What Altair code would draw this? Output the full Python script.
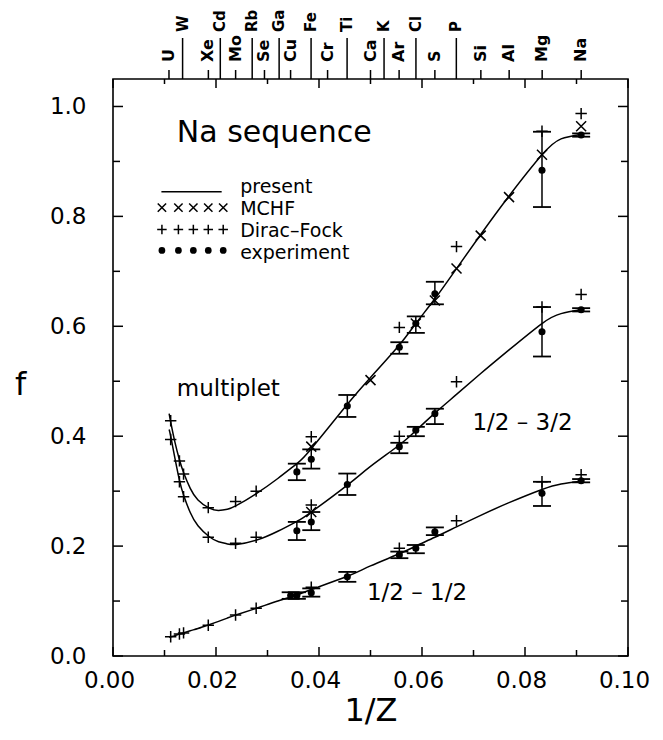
import altair as alt
import pandas as pd

# ---------------- data ----------------
# "present" curves sampled along 1/Z
curve_x = [0.0109, 0.0112, 0.0120, 0.0129, 0.0137, 0.0150, 0.0165, 0.0187, 0.0205,
           0.0222, 0.0240, 0.0279, 0.0320, 0.0357, 0.0385, 0.0455, 0.0500, 0.0556,
           0.0588, 0.0625, 0.0667, 0.0714, 0.0769, 0.0833, 0.0870, 0.0909]
present_mult = [0.441, 0.426, 0.390, 0.357, 0.334, 0.305, 0.284, 0.269, 0.265,
                0.267, 0.274, 0.296, 0.323, 0.350, 0.377, 0.458, 0.507, 0.566,
                0.605, 0.650, 0.705, 0.767, 0.837, 0.912, 0.941, 0.949]
present_32 = [0.412, 0.400, 0.361, 0.320, 0.293, 0.261, 0.237, 0.217, 0.208,
              0.204, 0.203, 0.211, 0.227, 0.245, 0.262, 0.311, 0.345, 0.384,
              0.410, 0.442, 0.476, 0.514, 0.557, 0.605, 0.623, 0.630]
present_12 = [0.034, 0.035, 0.037, 0.040, 0.042, 0.046, 0.050, 0.057, 0.063,
              0.069, 0.075, 0.087, 0.100, 0.111, 0.121, 0.145, 0.164, 0.186,
              0.200, 0.216, 0.235, 0.256, 0.279, 0.303, 0.313, 0.318]

# Dirac-Fock (+)
df_x = [0.0112, 0.0129, 0.0137, 0.0185, 0.0238, 0.0278, 0.0385, 0.0556, 0.0667, 0.0833, 0.0909]
df_mult = [0.428, 0.355, 0.331, 0.270, 0.281, 0.300, 0.399, 0.598, 0.745, 0.955, 0.987]
df_32 = [0.394, 0.317, 0.290, 0.216, 0.205, 0.216, 0.275, 0.400, 0.499, 0.635, 0.658]
df_12 = [0.035, 0.040, 0.042, 0.056, 0.0745, 0.087, 0.125, 0.196, 0.246, 0.317, 0.330]

# MCHF (x)
mchf_x = [0.0385, 0.0500, 0.0588, 0.0625, 0.0667, 0.0714, 0.0769, 0.0833, 0.0909, 0.0385]
mchf_f = [0.381, 0.502, 0.605, 0.647, 0.705, 0.765, 0.835, 0.912, 0.964, 0.262]

# experiment (dots with error bars)
exp_x_mult = [0.0357, 0.0385, 0.0455, 0.0556, 0.0588, 0.0625, 0.0833, 0.0909]
exp_f_mult = [0.335, 0.358, 0.455, 0.562, 0.605, 0.659, 0.884, 0.948]
exp_lo_mult = [0.320, 0.341, 0.435, 0.550, 0.588, 0.640, 0.817, 0.945]
exp_hi_mult = [0.350, 0.376, 0.475, 0.571, 0.618, 0.681, 0.954, 0.951]

exp_x_32 = [0.0357, 0.0385, 0.0455, 0.0556, 0.0588, 0.0625, 0.0833, 0.0909]
exp_f_32 = [0.228, 0.244, 0.312, 0.381, 0.411, 0.441, 0.590, 0.630]
exp_lo_32 = [0.211, 0.229, 0.293, 0.369, 0.400, 0.422, 0.545, 0.627]
exp_hi_32 = [0.244, 0.262, 0.332, 0.388, 0.417, 0.450, 0.635, 0.633]

exp_x_12 = [0.0345, 0.0357, 0.0385, 0.0455, 0.0556, 0.0588, 0.0625, 0.0833, 0.0909]
exp_f_12 = [0.110, 0.110, 0.115, 0.144, 0.184, 0.196, 0.226, 0.296, 0.319]
exp_lo_12 = [0.104, 0.104, 0.108, 0.135, 0.178, 0.187, 0.220, 0.273, 0.316]
exp_hi_12 = [0.116, 0.116, 0.123, 0.153, 0.190, 0.202, 0.234, 0.317, 0.322]

# top axis: elements (nuclear charge Z)
top_lower_names = ["U", "Xe", "Mo", "Se", "Cu", "Cr", "Ca", "Ar", "S", "Si", "Al", "Mg", "Na"]
top_lower_Z = [92, 54, 42, 34, 29, 24, 20, 18, 16, 14, 13, 12, 11]
top_upper_names = ["W", "Cd", "Rb", "Ga", "Fe", "Ti", "K", "Cl", "P"]
top_upper_Z = [74, 48, 37, 31, 26, 22, 19, 17, 15]

x_major = [0.0, 0.02, 0.04, 0.06, 0.08, 0.10]
x_minor = [0.01, 0.03, 0.05, 0.07, 0.09]
y_major = [0.0, 0.2, 0.4, 0.6, 0.8, 1.0]
y_minor = [0.1, 0.3, 0.5, 0.7, 0.9]

# legend layout (inside the plot, upper left)
leg_sym_x = [0.0095, 0.0127, 0.0156, 0.0185, 0.0214]
leg_line_x = [0.0094, 0.0211]
leg_rows_f = [0.845, 0.816, 0.776, 0.738]
leg_text = ["present", "MCHF", "Dirac\u2013Fock", "experiment"]
leg_text_x = 0.0247
leg_text_f = [0.8424, 0.8018, 0.7624, 0.723]

notes = ["Na  sequence", "multiplet", "1/2  \u2013  3/2", "1/2  \u2013  1/2"]
notes_x = [0.0124, 0.0124, 0.0698, 0.0493]
notes_f = [0.935, 0.4727, 0.412, 0.1018]
notes_size = [30, 23, 23, 23]

# ---------------- build tables ----------------
W, H = 515, 577
FONT = "DejaVu Sans"

curves = pd.DataFrame({
    "x": curve_x * 3,
    "f": present_mult + present_32 + present_12,
    "series": ["multiplet"] * len(curve_x) + ["1/2-3/2"] * len(curve_x) + ["1/2-1/2"] * len(curve_x),
})
dfp = pd.DataFrame({"x": df_x * 3, "f": df_mult + df_32 + df_12})
mchf = pd.DataFrame({"x": mchf_x, "f": mchf_f})
exp = pd.DataFrame({
    "x": exp_x_mult + exp_x_32 + exp_x_12,
    "f": exp_f_mult + exp_f_32 + exp_f_12,
    "lo": exp_lo_mult + exp_lo_32 + exp_lo_12,
    "hi": exp_hi_mult + exp_hi_32 + exp_hi_12,
})
caps = pd.DataFrame({"x": list(exp["x"]) * 2, "f": list(exp["lo"]) + list(exp["hi"])})

xs = alt.Scale(domain=[0, 0.1], nice=False, zero=False)
ys = alt.Scale(domain=[0, 1.05], nice=False, zero=False)
xaxis = alt.Axis(values=x_major, format=".2f", ticks=False, domain=False, grid=False,
                 labelFontSize=23, labelFont=FONT, labelColor="black", labelPadding=13,
                 labelOffset=-4, labelFlush=False, labelOverlap=False,
                 title="1/Z", titleFont=FONT, titleFontSize=32, titleFontWeight="normal",
                 titleColor="black", titleX=W / 2, titleY=54, titleAlign="center",
                 titleBaseline="middle")
yaxis = alt.Axis(values=y_major, format=".1f", ticks=False, domain=False, grid=False,
                 labelFontSize=23, labelFont=FONT, labelColor="black", labelPadding=27,
                 labelFlush=False, labelOverlap=False,
                 title="f", titleFont=FONT, titleFontSize=32, titleFontWeight="normal",
                 titleColor="black", titleAngle=0, titleX=-93, titleY=305,
                 titleAlign="center", titleBaseline="middle")

X = alt.X("x:Q", scale=xs, axis=xaxis)
Y = alt.Y("f:Q", scale=ys, axis=yaxis)

lines = alt.Chart(curves).mark_line(color="black", strokeWidth=1.5, interpolate="natural").encode(
    x=X, y=Y, detail="series:N")

PLUS = "M-1,0L1,0M0,-1L0,1"
CROSS = "M-1,-1L1,1M-1,1L1,-1"
CAP = "M-1,0L1,0"

plus = alt.Chart(dfp).mark_point(shape=PLUS, filled=False, color="black", strokeWidth=1.5,
                                 size=130, opacity=1).encode(x=X, y=Y)
cross = alt.Chart(mchf).mark_point(shape=CROSS, filled=False, color="black", strokeWidth=1.5,
                                   size=100, opacity=1).encode(x=X, y=Y)
bars = alt.Chart(exp).mark_rule(color="black", strokeWidth=1.5).encode(
    x=X, y=alt.Y("lo:Q", scale=ys, axis=yaxis), y2="hi:Q")
capm = alt.Chart(caps).mark_point(shape=CAP, filled=False, color="black", strokeWidth=1.8,
                                  size=324, opacity=1).encode(x=X, y=Y)
dots = alt.Chart(exp).mark_circle(color="black", size=50, opacity=1).encode(x=X, y=Y)


# frame ticks (inward)
def hticks(vals, y0, y1):
    return alt.Chart(pd.DataFrame({"x": vals})).mark_rule(color="black", strokeWidth=1.5).encode(
        x=X, y=alt.value(y0), y2=alt.value(y1))


def vticks(vals, x0, x1):
    return alt.Chart(pd.DataFrame({"f": vals})).mark_rule(color="black", strokeWidth=1.5).encode(
        y=Y, x=alt.value(x0), x2=alt.value(x1))


tick_layers = [
    hticks(x_major, H, H - 9), hticks(x_minor, H, H - 6),
    hticks(x_major, 0, 9), hticks(x_minor, 0, 5),
    vticks(y_major, 0, 10), vticks(y_minor, 0, 7),
    vticks(y_major, W, W - 10), vticks(y_minor, W, W - 7),
]

low = pd.DataFrame({"x": [1.0 / z for z in top_lower_Z], "name": top_lower_names})
upp = pd.DataFrame({"x": [1.0 / z for z in top_upper_Z], "name": top_upper_names})
low_ticks = alt.Chart(low).mark_rule(color="black", strokeWidth=1.5).encode(
    x=X, y=alt.value(0), y2=alt.value(-9))
upp_ticks = alt.Chart(upp).mark_rule(color="black", strokeWidth=1.5).encode(
    x=X, y=alt.value(0), y2=alt.value(-41))
low_text = alt.Chart(low).mark_text(angle=270, align="left", baseline="middle", font=FONT,
                                    fontSize=16, fontWeight="bold", color="black").encode(
    x=X, y=alt.value(-17), text="name:N")
upp_text = alt.Chart(upp).mark_text(angle=270, align="left", baseline="middle", font=FONT,
                                    fontSize=15, fontWeight="bold", color="black").encode(
    x=X, y=alt.value(-47), text="name:N")

# legend
leg_line = alt.Chart(pd.DataFrame({"x": [leg_line_x[0]], "x2": [leg_line_x[1]], "f": [leg_rows_f[0]]})).mark_rule(
    color="black", strokeWidth=1.5).encode(x=X, x2="x2:Q", y=Y)
leg_cross = alt.Chart(pd.DataFrame({"x": leg_sym_x, "f": [leg_rows_f[1]] * 5})).mark_point(
    shape=CROSS, filled=False, color="black", strokeWidth=1.5, size=70, opacity=1).encode(x=X, y=Y)
leg_plus = alt.Chart(pd.DataFrame({"x": leg_sym_x, "f": [leg_rows_f[2]] * 5})).mark_point(
    shape=PLUS, filled=False, color="black", strokeWidth=1.5, size=90, opacity=1).encode(x=X, y=Y)
leg_dot = alt.Chart(pd.DataFrame({"x": leg_sym_x, "f": [leg_rows_f[3]] * 5})).mark_circle(
    color="black", size=45, opacity=1).encode(x=X, y=Y)
leg_txt = alt.Chart(pd.DataFrame({"x": [leg_text_x] * 4, "f": leg_text_f, "t": leg_text})).mark_text(
    align="left", baseline="alphabetic", font=FONT, fontSize=19, color="black").encode(
    x=X, y=Y, text="t:N")

note_layers = []
for t, nx, nf, sz in zip(notes, notes_x, notes_f, notes_size):
    note_layers.append(
        alt.Chart(pd.DataFrame({"x": [nx], "f": [nf], "t": [t]})).mark_text(
            align="left", baseline="alphabetic", font=FONT, fontSize=sz, color="black").encode(
            x=X, y=Y, text="t:N"))

chart = alt.layer(
    lines, bars, capm, dots, plus, cross, *tick_layers,
    low_ticks, upp_ticks, low_text, upp_text,
    leg_line, leg_cross, leg_plus, leg_dot, leg_txt, *note_layers,
).properties(
    width=W, height=H,
    autosize=alt.AutoSizeParams(type="none"),
    padding={"left": 105, "top": 71, "right": 27, "bottom": 76},
).configure(font=FONT).configure_view(stroke="black", strokeWidth=1.6)

chart.save("out.html", embed_options={"renderer": "svg", "actions": False})
